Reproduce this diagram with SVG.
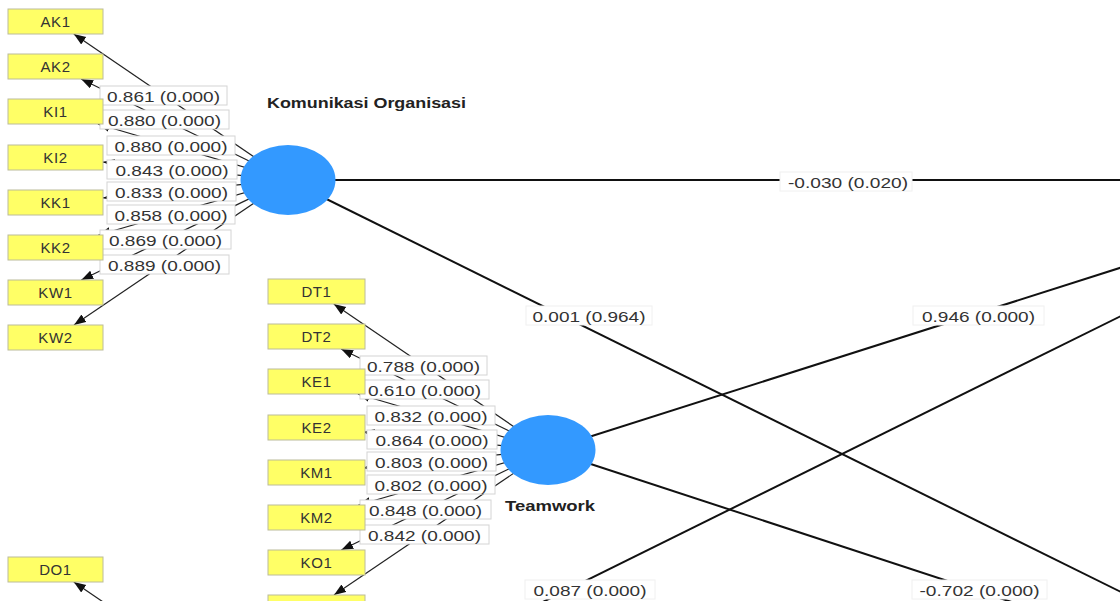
<svg xmlns="http://www.w3.org/2000/svg" width="1120" height="601" viewBox="0 0 1120 601">
<defs>
<marker id="arr" markerUnits="userSpaceOnUse" markerWidth="13" markerHeight="10" refX="12" refY="4.5" orient="auto">
<path d="M0,0 L12,4.5 L0,9 Z" fill="#111"/>
</marker>
<style>
.ind rect{fill:#ffff66;stroke:#bcbc9a;stroke-width:1}
.ind text{font-family:"Liberation Sans",Arial,sans-serif;font-size:15px;letter-spacing:0.6px;fill:#333;text-anchor:middle}
.lat{fill:#3399ff}
.lname{font-family:"Liberation Sans",Arial,sans-serif;font-size:14px;font-weight:bold;fill:#222}
.ld{stroke:#222;stroke-width:1.2;fill:none;marker-end:url(#arr)}
.st{stroke:#111;stroke-width:2;fill:none}
.lb rect{fill:#fff;stroke:#d4d4d4;stroke-width:1}
.sb rect{fill:#fff;stroke:#f0f0f0;stroke-width:1}
.lb text,.sb text{font-family:"Liberation Sans",Arial,sans-serif;font-size:15px;fill:#333;text-anchor:middle}
</style>
</defs>
<rect width="1120" height="601" fill="#fff"/>

<g id="connectors">
<!-- structural paths -->
<line class="st" x1="288" y1="180" x2="1396" y2="180"/>
<line class="st" x1="288" y1="180" x2="1396" y2="728"/>
<line class="st" x1="548" y1="450" x2="1396" y2="180"/>
<line class="st" x1="548" y1="450" x2="1396" y2="728"/>
<line class="st" x1="288" y1="728" x2="1396" y2="180"/>
<!-- Komunikasi Organisasi loadings -->
<line class="ld" x1="288" y1="180" x2="73.8" y2="34"/>
<line class="ld" x1="288" y1="180" x2="81.1" y2="79"/>
<line class="ld" x1="288" y1="180" x2="97.9" y2="124"/>
<line class="ld" x1="288" y1="180" x2="103" y2="162.1"/>
<line class="ld" x1="288" y1="180" x2="103" y2="197.9"/>
<line class="ld" x1="288" y1="180" x2="98.5" y2="235"/>
<line class="ld" x1="288" y1="180" x2="81.3" y2="280"/>
<line class="ld" x1="288" y1="180" x2="74" y2="325"/>
<!-- Teamwork loadings -->
<line class="ld" x1="548" y1="450" x2="333.8" y2="304"/>
<line class="ld" x1="548" y1="450" x2="341.1" y2="349"/>
<line class="ld" x1="548" y1="450" x2="357.9" y2="394"/>
<line class="ld" x1="548" y1="450" x2="363" y2="432.1"/>
<line class="ld" x1="548" y1="450" x2="363" y2="467.9"/>
<line class="ld" x1="548" y1="450" x2="358.5" y2="505"/>
<line class="ld" x1="548" y1="450" x2="341.3" y2="550"/>
<line class="ld" x1="548" y1="450" x2="334" y2="595"/>
<!-- lower latent loading -->
<line class="ld" x1="288" y1="728" x2="73.8" y2="582"/>

<!-- loading labels -->
<g class="lb">
<rect x="100" y="86" width="127" height="19"/><text x="163.5" y="101.5" textLength="113" lengthAdjust="spacingAndGlyphs">0.861 (0.000)</text>
<rect x="100" y="110" width="129" height="19"/><text x="164.5" y="125.5" textLength="113" lengthAdjust="spacingAndGlyphs">0.880 (0.000)</text>
<rect x="107" y="136" width="128" height="19"/><text x="171" y="151.5" textLength="113" lengthAdjust="spacingAndGlyphs">0.880 (0.000)</text>
<rect x="107" y="160" width="130" height="19"/><text x="172" y="175.5" textLength="113" lengthAdjust="spacingAndGlyphs">0.843 (0.000)</text>
<rect x="107" y="182" width="129" height="19"/><text x="171.5" y="197.5" textLength="113" lengthAdjust="spacingAndGlyphs">0.833 (0.000)</text>
<rect x="107" y="205" width="128" height="19"/><text x="171" y="220.5" textLength="113" lengthAdjust="spacingAndGlyphs">0.858 (0.000)</text>
<rect x="100" y="230" width="131" height="19"/><text x="165.5" y="245.5" textLength="113" lengthAdjust="spacingAndGlyphs">0.869 (0.000)</text>
<rect x="100" y="255" width="129" height="19"/><text x="164.5" y="270.5" textLength="113" lengthAdjust="spacingAndGlyphs">0.889 (0.000)</text>

<rect x="360" y="356" width="127" height="19"/><text x="423.5" y="371.5" textLength="113" lengthAdjust="spacingAndGlyphs">0.788 (0.000)</text>
<rect x="360" y="380" width="129" height="19"/><text x="424.5" y="395.5" textLength="113" lengthAdjust="spacingAndGlyphs">0.610 (0.000)</text>
<rect x="367" y="406" width="128" height="19"/><text x="431" y="421.5" textLength="113" lengthAdjust="spacingAndGlyphs">0.832 (0.000)</text>
<rect x="367" y="430" width="130" height="19"/><text x="432" y="445.5" textLength="113" lengthAdjust="spacingAndGlyphs">0.864 (0.000)</text>
<rect x="367" y="452" width="129" height="19"/><text x="431.5" y="467.5" textLength="113" lengthAdjust="spacingAndGlyphs">0.803 (0.000)</text>
<rect x="367" y="475" width="128" height="19"/><text x="431" y="490.5" textLength="113" lengthAdjust="spacingAndGlyphs">0.802 (0.000)</text>
<rect x="360" y="500" width="131" height="19"/><text x="425.5" y="515.5" textLength="113" lengthAdjust="spacingAndGlyphs">0.848 (0.000)</text>
<rect x="360" y="525" width="129" height="19"/><text x="424.5" y="540.5" textLength="113" lengthAdjust="spacingAndGlyphs">0.842 (0.000)</text>
</g>

<!-- structural labels -->
<g class="sb">
<rect x="780" y="172" width="132" height="19"/><text x="848" y="187.5" textLength="120" lengthAdjust="spacingAndGlyphs">-0.030 (0.020)</text>
<rect x="526" y="306" width="126" height="19"/><text x="589" y="321.5" textLength="113" lengthAdjust="spacingAndGlyphs">0.001 (0.964)</text>
<rect x="913" y="306" width="131" height="19"/><text x="978.5" y="321.5" textLength="113" lengthAdjust="spacingAndGlyphs">0.946 (0.000)</text>
<rect x="525" y="580" width="130" height="19"/><text x="590" y="595.5" textLength="113" lengthAdjust="spacingAndGlyphs">0.087 (0.000)</text>
<rect x="912" y="580" width="135" height="19"/><text x="979.5" y="595.5" textLength="120" lengthAdjust="spacingAndGlyphs">-0.702 (0.000)</text>
</g>
</g>

<!-- latent variables -->
<g id="komunikasi-organisasi">
<ellipse class="lat" cx="288" cy="180" rx="47.5" ry="35"/>
<text class="lname" x="267" y="108" textLength="199" lengthAdjust="spacingAndGlyphs">Komunikasi Organisasi</text>
</g>
<g id="teamwork">
<ellipse class="lat" cx="548" cy="450" rx="47.5" ry="35"/>
<text class="lname" x="505" y="511" textLength="90" lengthAdjust="spacingAndGlyphs">Teamwork</text>
</g>

<!-- indicators -->
<g id="AK1" class="ind"><rect x="8" y="9" width="95" height="25"/><text x="55.5" y="27">AK1</text></g>
<g id="AK2" class="ind"><rect x="8" y="54" width="95" height="25"/><text x="55.5" y="72">AK2</text></g>
<g id="KI1" class="ind"><rect x="8" y="99" width="95" height="25"/><text x="55.5" y="117">KI1</text></g>
<g id="KI2" class="ind"><rect x="8" y="145" width="95" height="25"/><text x="55.5" y="163">KI2</text></g>
<g id="KK1" class="ind"><rect x="8" y="190" width="95" height="25"/><text x="55.5" y="208">KK1</text></g>
<g id="KK2" class="ind"><rect x="8" y="235" width="95" height="25"/><text x="55.5" y="253">KK2</text></g>
<g id="KW1" class="ind"><rect x="8" y="280" width="95" height="25"/><text x="55.5" y="298">KW1</text></g>
<g id="KW2" class="ind"><rect x="8" y="325" width="95" height="25"/><text x="55.5" y="343">KW2</text></g>
<g id="DO1" class="ind"><rect x="8" y="557" width="95" height="25"/><text x="55.5" y="575">DO1</text></g>

<g id="DT1" class="ind"><rect x="268" y="279" width="97" height="25"/><text x="316.5" y="297">DT1</text></g>
<g id="DT2" class="ind"><rect x="268" y="324" width="97" height="25"/><text x="316.5" y="342">DT2</text></g>
<g id="KE1" class="ind"><rect x="268" y="369" width="97" height="25"/><text x="316.5" y="387">KE1</text></g>
<g id="KE2" class="ind"><rect x="268" y="415" width="97" height="25"/><text x="316.5" y="433">KE2</text></g>
<g id="KM1" class="ind"><rect x="268" y="460" width="97" height="25"/><text x="316.5" y="478">KM1</text></g>
<g id="KM2" class="ind"><rect x="268" y="505" width="97" height="25"/><text x="316.5" y="523">KM2</text></g>
<g id="KO1" class="ind"><rect x="268" y="550" width="97" height="25"/><text x="316.5" y="568">KO1</text></g>
<g id="KO2" class="ind"><rect x="268" y="595" width="97" height="25"/></g>
</svg>
